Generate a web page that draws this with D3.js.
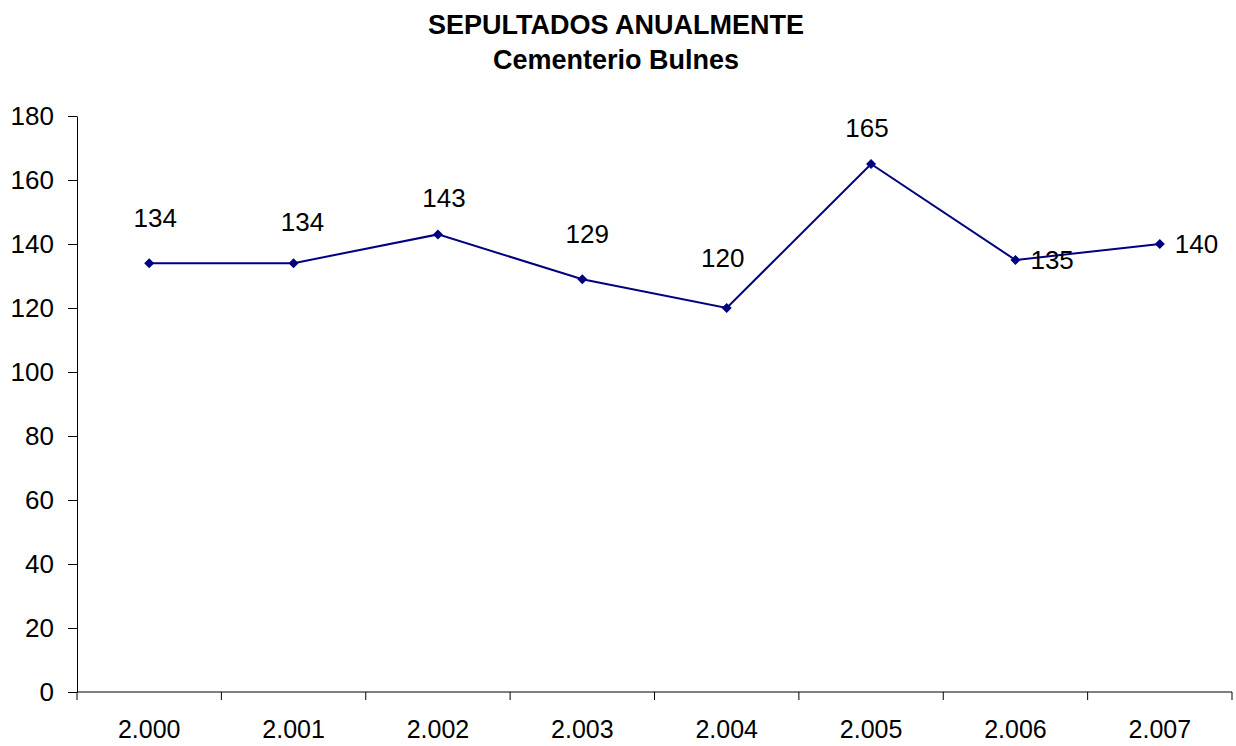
<!DOCTYPE html>
<html>
<head>
<meta charset="utf-8">
<script src="https://cdn.jsdelivr.net/npm/d3@7"></script>
<style>
  body { margin: 0; background: #fff; }
  svg { display: block; font-family: "Liberation Sans", Arial, sans-serif; }
</style>
</head>
<body>
<svg id="chart"></svg>
<script>
// chart data
let years = ["2.000", "2.001", "2.002", "2.003", "2.004", "2.005", "2.006", "2.007"];
let buried = [134, 134, 143, 129, 120, 165, 135, 140];
let yTicks = [0, 20, 40, 60, 80, 100, 120, 140, 160, 180];

// label nudges (px) as they sit in the original
let labelOffsets = [[6, -36], [9, -32], [6, -27], [5, -36], [-4, -41], [-4, -27], [15, 9], [15, 9]];

let width = 1236;
let height = 746;
let margin = { top: 116, right: 4, bottom: 54, left: 77 };

let svg = d3.select("#chart")
  .attr("width", width)
  .attr("height", height);

let x = d3.scaleBand()
  .domain(years)
  .range([margin.left, width - margin.right]);

let y = d3.scaleLinear()
  .domain([0, 180])
  .range([height - margin.bottom, margin.top]);

// title
svg.append("text")
  .attr("x", 616).attr("y", 34)
  .attr("text-anchor", "middle")
  .attr("font-weight", "bold")
  .attr("font-size", 27)
  .text("SEPULTADOS ANUALMENTE");

svg.append("text")
  .attr("x", 616).attr("y", 69)
  .attr("text-anchor", "middle")
  .attr("font-weight", "bold")
  .attr("font-size", 27)
  .text("Cementerio Bulnes");

// y axis
svg.append("g")
  .attr("transform", `translate(${margin.left},0)`)
  .call(d3.axisLeft(y).tickValues(yTicks).tickSize(9).tickPadding(14).tickSizeOuter(0))
  .call(g => g.selectAll("text").attr("font-size", 26).attr("fill", "#000").attr("font-family", null))
  .call(g => g.selectAll("line, path").attr("stroke", "#000"));

// x axis with ticks between categories
let xg = svg.append("g")
  .attr("transform", `translate(0,${height - margin.bottom})`);

xg.append("line")
  .attr("x1", margin.left).attr("x2", width - margin.right)
  .attr("stroke", "#000");

let bounds = years.map(d => x(d)).concat([x(years[years.length - 1]) + x.bandwidth()]);
xg.selectAll(".tk")
  .data(bounds)
  .enter()
  .append("line")
    .attr("x1", d => d).attr("x2", d => d)
    .attr("y1", 0).attr("y2", 8)
    .attr("stroke", "#000");

xg.selectAll(".lbl")
  .data(years)
  .enter()
  .append("text")
    .attr("x", d => x(d) + x.bandwidth() / 2)
    .attr("y", 46)
    .attr("text-anchor", "middle")
    .attr("font-size", 25)
    .text(d => d);

// series
let points = years.map((d, i) => ({ year: d, value: buried[i] }));
let cx = d => x(d.year) + x.bandwidth() / 2;

let line = d3.line()
  .x(cx)
  .y(d => y(d.value));

svg.append("path")
  .datum(points)
  .attr("fill", "none")
  .attr("stroke", "#000080")
  .attr("stroke-width", 2)
  .attr("d", line);

svg.append("g").selectAll("path")
  .data(points)
  .enter()
  .append("path")
    .attr("d", d3.symbol().type(d3.symbolDiamond2).size(64)())
    .attr("transform", d => `translate(${cx(d)},${y(d.value)})`)
    .attr("fill", "#000080");

svg.append("g").selectAll("text")
  .data(points)
  .enter()
  .append("text")
    .attr("x", (d, i) => cx(d) + labelOffsets[i][0])
    .attr("y", (d, i) => y(d.value) + labelOffsets[i][1])
    .attr("text-anchor", (d, i) => i >= 6 ? "start" : "middle")
    .attr("font-size", 26)
    .text(d => d.value);
</script>
</body>
</html>
